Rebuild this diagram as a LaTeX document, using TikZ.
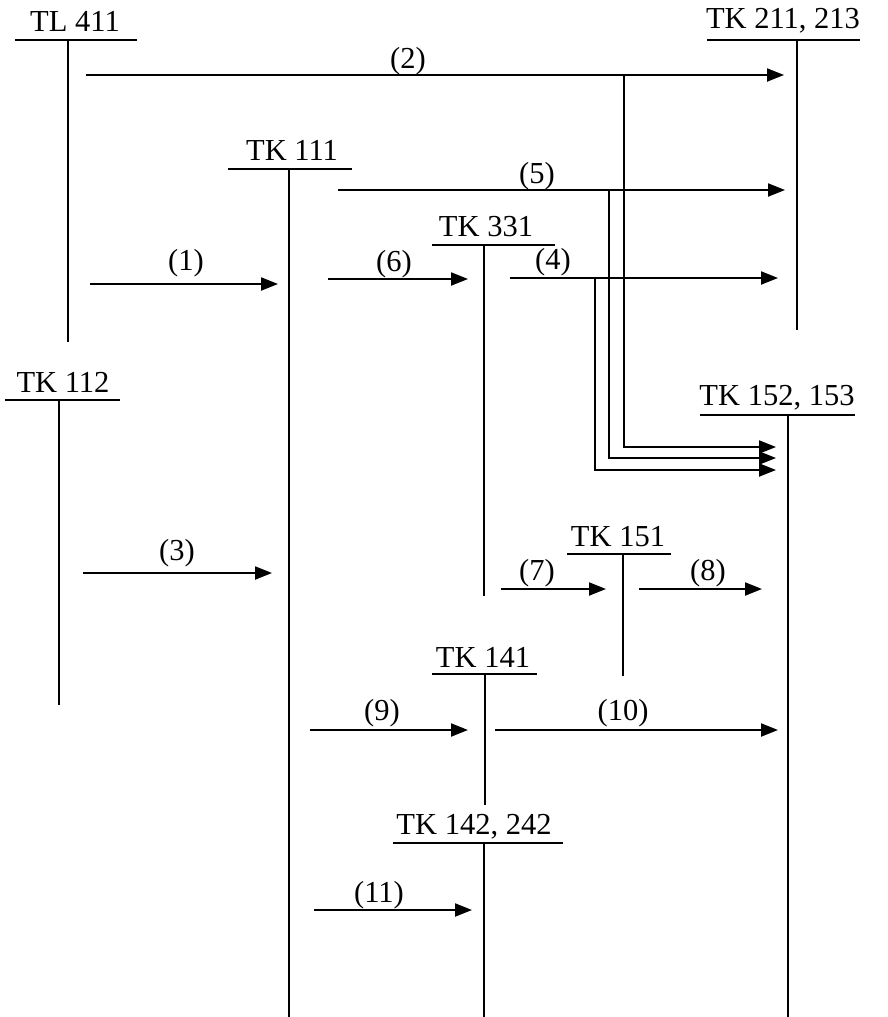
\documentclass[tikz,border=0pt]{standalone}
\usepackage{fontspec}
\setmainfont{Liberation Serif}
\usetikzlibrary{arrows.meta}
\tikzset{
  lbl/.style={inner sep=0pt, font=\fontsize{30.5}{32}\selectfont},
  ul/.style={line width=2.1pt},
  life/.style={line width=2.1pt},
  msg/.style={line width=2.1pt, -{Triangle[length=17pt,width=13pt]}},
  branch/.style={line width=2.1pt, -{Triangle[length=17pt,width=13pt]}},
}
\begin{document}
\begin{tikzpicture}[x=1pt,y=-1pt]
\useasboundingbox (0,0) rectangle (887,1017);

% ---- entities: label, underline, lifeline
\node[lbl] (n411) at (75,21) {TL 411};
\coordinate (u411a) at (15,40); \coordinate (u411b) at (137,40);
\coordinate (l411t) at (68,40); \coordinate (l411b) at (68,342);
\draw[ul] (u411a) -- (u411b); \draw[life] (l411t) -- (l411b);

\node[lbl] (n211) at (783,21) {TK 211, 213};
\coordinate (u211a) at (707,40); \coordinate (u211b) at (860,40);
\coordinate (l211t) at (797,40); \coordinate (l211b) at (797,330);
\draw[ul] (u211a) -- (u211b); \draw[life] (l211t) -- (l211b);

\node[lbl] (n111) at (292,150) {TK 111};
\coordinate (u111a) at (228,169); \coordinate (u111b) at (352,169);
\coordinate (l111t) at (289,169); \coordinate (l111b) at (289,1017);
\draw[ul] (u111a) -- (u111b); \draw[life] (l111t) -- (l111b);

\node[lbl] (n331) at (486,227) {TK 331};
\coordinate (u331a) at (432,245); \coordinate (u331b) at (555,245);
\coordinate (l331t) at (484,245); \coordinate (l331b) at (484,596);
\draw[ul] (u331a) -- (u331b); \draw[life] (l331t) -- (l331b);

\node[lbl] (n112) at (63,382) {TK 112};
\coordinate (u112a) at (5,400); \coordinate (u112b) at (120,400);
\coordinate (l112t) at (59,400); \coordinate (l112b) at (59,705);
\draw[ul] (u112a) -- (u112b); \draw[life] (l112t) -- (l112b);

\node[lbl] (n152) at (777,398) {TK 152, 153};
\coordinate (u152a) at (700,415); \coordinate (u152b) at (855,415);
\coordinate (l152t) at (788,415); \coordinate (l152b) at (788,1017);
\draw[ul] (u152a) -- (u152b); \draw[life] (l152t) -- (l152b);

\node[lbl] (n151) at (618,537) {TK 151};
\coordinate (u151a) at (567,554); \coordinate (u151b) at (671,554);
\coordinate (l151t) at (623,554); \coordinate (l151b) at (623,676);
\draw[ul] (u151a) -- (u151b); \draw[life] (l151t) -- (l151b);

\node[lbl] (n141) at (483,657) {TK 141};
\coordinate (u141a) at (432,674); \coordinate (u141b) at (537,674);
\coordinate (l141t) at (485,674); \coordinate (l141b) at (485,805);
\draw[ul] (u141a) -- (u141b); \draw[life] (l141t) -- (l141b);

\node[lbl] (n142) at (474,827) {TK 142, 242};
\coordinate (u142a) at (393,843); \coordinate (u142b) at (563,843);
\coordinate (l142t) at (484,843); \coordinate (l142b) at (484,1017);
\draw[ul] (u142a) -- (u142b); \draw[life] (l142t) -- (l142b);

% ---- messages
\coordinate (m1a) at (90,284);  \coordinate (m1b) at (278,284);
\draw[msg] (m1a) -- (m1b); \node[lbl] (t1) at (186,263) {(1)};

\coordinate (m2a) at (86,75);   \coordinate (m2b) at (784,75);
\draw[msg] (m2a) -- (m2b); \node[lbl] (t2) at (408,61) {(2)};

\coordinate (m3a) at (83,573);  \coordinate (m3b) at (272,573);
\draw[msg] (m3a) -- (m3b); \node[lbl] (t3) at (177,553) {(3)};

\coordinate (m4a) at (510,278); \coordinate (m4b) at (778,278);
\draw[msg] (m4a) -- (m4b); \node[lbl] (t4) at (553,262) {(4)};

\coordinate (m5a) at (338,190); \coordinate (m5b) at (785,190);
\draw[msg] (m5a) -- (m5b); \node[lbl] (t5) at (537,176) {(5)};

\coordinate (m6a) at (328,279); \coordinate (m6b) at (468,279);
\draw[msg] (m6a) -- (m6b); \node[lbl] (t6) at (394,264) {(6)};

\coordinate (m7a) at (501,589); \coordinate (m7b) at (606,589);
\draw[msg] (m7a) -- (m7b); \node[lbl] (t7) at (537,573) {(7)};

\coordinate (m8a) at (639,589); \coordinate (m8b) at (762,589);
\draw[msg] (m8a) -- (m8b); \node[lbl] (t8) at (708,573) {(8)};

\coordinate (m9a) at (310,730); \coordinate (m9b) at (468,730);
\draw[msg] (m9a) -- (m9b); \node[lbl] (t9) at (382,713) {(9)};

\coordinate (m10a) at (495,730); \coordinate (m10b) at (778,730);
\draw[msg] (m10a) -- (m10b); \node[lbl] (t10) at (623,713) {(10)};

\coordinate (m11a) at (314,910); \coordinate (m11b) at (472,910);
\draw[msg] (m11a) -- (m11b); \node[lbl] (t11) at (379,895) {(11)};

% ---- branches down to TK 152, 153
\coordinate (b2a) at (624,75);  \coordinate (b2c) at (624,447); \coordinate (b2b) at (776,447);
\coordinate (b5a) at (609,190); \coordinate (b5c) at (609,458); \coordinate (b5b) at (776,458);
\coordinate (b4a) at (595,278); \coordinate (b4c) at (595,470); \coordinate (b4b) at (776,470);
\draw[branch] (b2a) -- (b2c) -- (b2b);
\draw[branch] (b5a) -- (b5c) -- (b5b);
\draw[branch] (b4a) -- (b4c) -- (b4b);
\end{tikzpicture}
\end{document}
